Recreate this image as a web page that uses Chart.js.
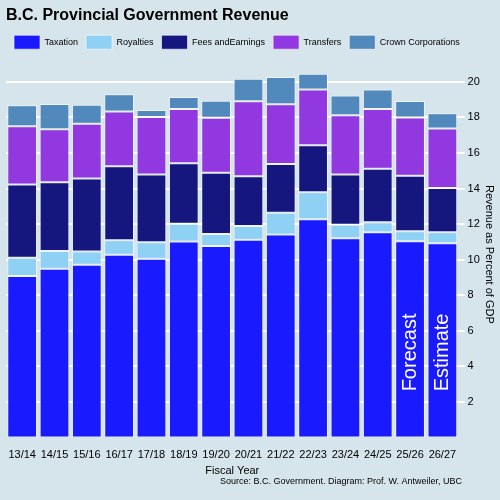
<!DOCTYPE html><html><head><script src="https://cdn.jsdelivr.net/npm/chart.js"></script>
<style>body{margin:0;background:#d6e4eb}#w{width:500px;height:500px}</style></head><body><div id="w"><canvas id="c"></canvas></div>
<script>
const categories=["13/14","14/15","15/16","16/17","17/18","18/19","19/20","20/21","21/22","22/23","23/24","24/25","25/26","26/27"];
const taxation=[9.09,9.49,9.72,10.28,10.06,11.02,10.77,11.13,11.42,12.28,11.21,11.55,11.04,10.92];
const royalties=[1.02,1.00,0.75,0.81,0.92,1.00,0.68,0.76,1.22,1.51,0.75,0.56,0.56,0.63];
const fees=[4.12,3.87,4.10,4.16,3.81,3.40,3.44,2.81,2.74,2.64,2.83,3.00,3.12,2.49];
const transfers=[3.28,2.98,3.07,3.09,3.23,3.05,3.09,4.21,3.36,3.14,3.34,3.36,3.28,3.34];
const crown=[1.17,1.41,1.08,0.96,0.40,0.68,0.96,1.26,1.54,0.88,1.10,1.10,0.92,0.85];
const yTicks=[2,4,6,8,10,12,14,16,18,20];
const mk=(l,d,c)=>({label:l,data:d,backgroundColor:c,borderColor:'rgba(255,255,255,0.6)',borderWidth:1,borderSkipped:false,barPercentage:0.92,categoryPercentage:1});
const notes={id:'notes',afterDatasetsDraw(ch){const x=ch.scales.x,y=ch.scales.y,g=ch.ctx;g.save();g.fillStyle='#fff';g.font='20px "Liberation Sans"';g.textAlign='left';g.textBaseline='middle';
[[12,'Forecast'],[13,'Estimate']].forEach(([i,t])=>{g.save();g.translate(x.getPixelForValue(i),y.getPixelForValue(2.6));g.rotate(-Math.PI/2);g.fillText(t,0,0);g.restore();});
g.fillStyle='#000';g.font='9px "Liberation Sans"';g.textAlign='right';g.fillText('Source: B.C. Government. Diagram: Prof. W. Antweiler, UBC',462,482);g.restore();}};
const legendPad={id:'legendPad',beforeInit(ch){const f=ch.legend.fit;ch.legend.fit=function(){f.bind(ch.legend)();this.height+=12;};}};
new Chart(document.getElementById('c'),{type:'bar',data:{labels:categories,datasets:[mk('Taxation',taxation,'#1a1aff'),mk('Royalties',royalties,'#8fd0f5'),mk('Fees andEarnings',fees,'#16167f'),mk('Transfers',transfers,'#9138e0'),mk('Crown Corporations',crown,'#5189bd')]},
options:{responsive:true,maintainAspectRatio:false,animation:false,layout:{padding:{left:6,right:4,bottom:22}},
plugins:{title:{display:true,text:'B.C. Provincial Government Revenue',align:'start',color:'#000',font:{family:'Liberation Sans',size:16,weight:'bold'},padding:{top:6,bottom:2}},
legend:{align:'start',labels:{boxWidth:26,boxHeight:14,color:'#000',font:{family:'Liberation Sans',size:9},padding:8}},tooltip:{enabled:false}},
scales:{x:{stacked:true,grid:{display:false},border:{display:false},ticks:{color:'#000',font:{family:'Liberation Sans',size:11},maxRotation:0,autoSkip:false},title:{display:true,text:'Fiscal Year',color:'#000',font:{family:'Liberation Sans',size:11},padding:0}},
y:{stacked:true,position:'right',min:0,max:20.6,afterBuildTicks:a=>{a.ticks=yTicks.map(v=>({value:v}))},grid:{color:'#fff',lineWidth:2,z:-1,tickLength:6},border:{display:false},ticks:{color:'#000',font:{family:'Liberation Sans',size:11}},title:{display:true,text:'Revenue as Percent of GDP',color:'#000',font:{family:'Liberation Sans',size:11},padding:0}}}},plugins:[notes,legendPad]});
</script></body></html>
